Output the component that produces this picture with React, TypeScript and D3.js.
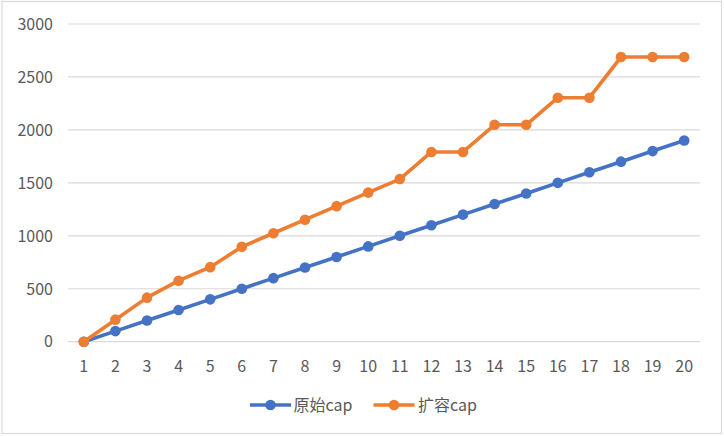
import React from "react";
import * as d3 from "d3";

const categories: number[] = d3.range(1, 21);
const originalCap: number[] = [0, 100, 200, 300, 400, 500, 600, 700, 800, 900, 1000, 1100, 1200, 1300, 1400, 1500, 1600, 1700, 1800, 1900];
const expandedCap: number[] = [0, 208, 416, 576, 704, 896, 1024, 1152, 1280, 1408, 1536, 1792, 1792, 2048, 2048, 2304, 2304, 2688, 2688, 2688];
const yTicks: number[] = [0, 500, 1000, 1500, 2000, 2500, 3000];
const seriesNames: string[] = ["原始cap", "扩容cap"];
const colors: string[] = ["#4472C4", "#ED7D31"];

const W = 724;
const H = 436;
const FONT = "'Noto Sans CJK SC', 'Noto Sans', sans-serif";

export default function App() {
  const x = d3.scaleBand<number>().domain(categories).range([68, 700]).padding(0);
  const y = d3.scaleLinear().domain([0, 3000]).range([341.7, 24]);
  const cx = (c: number) => (x(c) as number) + x.bandwidth() / 2;
  const line = d3
    .line<number>()
    .x((_, i) => cx(categories[i]))
    .y((d) => y(d));
  const series = [originalCap, expandedCap];
  const legendItems = [
    { lx: 250, tx: 293.5 },
    { lx: 373.5, tx: 418 },
  ];
  const legendY = 405;

  return (
    <svg
      width={W}
      height={H}
      style={{ position: "fixed", left: 0, top: 0, background: "#fff" }}
      fontFamily={FONT}
    >
      <rect x={0} y={0} width={W} height={H} fill="#fff" />
      <rect x={2} y={1.5} width={719.5} height={432} fill="none" stroke="#d9d9d9" strokeWidth={1.2} />
      {yTicks.map((t) => (
        <g key={t}>
          <line x1={68} x2={700} y1={y(t)} y2={y(t)} stroke="#d9d9d9" strokeWidth={1.2} />
          <text x={53} y={y(t)} dy="0.36em" textAnchor="end" fontSize={16} fill="#595959">
            {t}
          </text>
        </g>
      ))}
      {categories.map((c) => (
        <text key={c} x={cx(c)} y={372} textAnchor="middle" fontSize={16} fill="#595959">
          {c}
        </text>
      ))}
      {series.map((s, si) => (
        <g key={si}>
          <path d={line(s) as string} fill="none" stroke={colors[si]} strokeWidth={3.6} strokeLinejoin="round" />
          {s.map((v, i) => (
            <circle key={i} cx={cx(categories[i])} cy={y(v)} r={5.3} fill={colors[si]} />
          ))}
        </g>
      ))}
      {legendItems.map((it, i) => (
        <g key={i}>
          <line x1={it.lx} x2={it.lx + 41} y1={legendY} y2={legendY} stroke={colors[i]} strokeWidth={3.6} />
          <circle cx={it.lx + 20.5} cy={legendY} r={5.3} fill={colors[i]} />
          <text x={it.tx} y={legendY} dy="0.36em" fontSize={16} fill="#595959">
            {seriesNames[i]}
          </text>
        </g>
      ))}
    </svg>
  );
}
